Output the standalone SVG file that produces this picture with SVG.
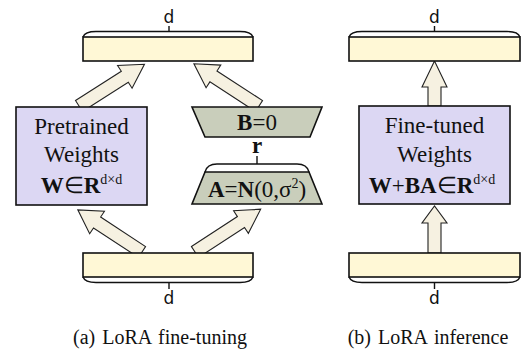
<svg xmlns="http://www.w3.org/2000/svg" width="524" height="356" viewBox="0 0 524 356">
  <style>
    .bar { fill: #FFF8D6; stroke: #111; stroke-width: 1.6; }
    .wbox { fill: #DCD7F3; stroke: #111; stroke-width: 1.6; }
    .trap { fill: #C9CEBB; stroke: #111; stroke-width: 1.6; }
    .brace { fill: none; stroke: #111; stroke-width: 1.4; }
    .arrow { fill: #F6F1E1; stroke: #222; stroke-width: 1.1; stroke-linejoin: miter; }
    .lbl { font-size: 23px; fill: #111; text-anchor: middle; }
    .dim { font-size: 17px; fill: #111; text-anchor: middle; }
    .cap { font-size: 20px; fill: #111; text-anchor: middle; word-spacing: 2px; }
    .b { font-weight: bold; }
  </style>

  <!-- connectors: thick block arrows -->
  <g id="connectors" class="arrow">
    <!-- (a) pretrained -> output -->
    <path transform="translate(79,106) rotate(-32.5) scale(0.97,1)" d="M0,-6.5 L56,-6.5 L56,-13.5 L80,0 L56,13.5 L56,6.5 L0,6.5 Z"/>
    <!-- (a) B -> output -->
    <path transform="translate(259,106) rotate(-147) scale(0.97,1)" d="M0,-6.5 L56,-6.5 L56,-13.5 L80,0 L56,13.5 L56,6.5 L0,6.5 Z"/>
    <!-- (a) input -> pretrained -->
    <path transform="translate(142,252) rotate(-146.7) scale(0.96,1)" d="M0,-6.5 L56,-6.5 L56,-13.5 L80,0 L56,13.5 L56,6.5 L0,6.5 Z"/>
    <!-- (a) input -> A -->
    <path transform="translate(195,252) rotate(-33.1) scale(0.98,1)" d="M0,-6.5 L56,-6.5 L56,-13.5 L80,0 L56,13.5 L56,6.5 L0,6.5 Z"/>
    <!-- (b) input -> fine-tuned -> output -->
    <path d="M428,106 V87 H422 L434.5,61 L447,87 H441 V106 Z"/>
    <path d="M428,253 V223 H422 L434.5,206 L447,223 H441 V253 Z"/>
  </g>

  <!-- (a) LoRA fine-tuning -->
  <g id="a-output">
    <rect class="bar" x="83" y="37" width="170" height="24"/>
    <path class="brace" d="M83,37 Q85,31.5 96,31.5 L240,31.5 Q251,31.5 253,37 M169,31.5 V26"/>
    <text class="dim" font-family="'DejaVu Sans', sans-serif" x="169" y="23">d</text>
  </g>
  <g id="a-pretrained" font-family="'Liberation Serif', 'Times New Roman', serif">
    <rect class="wbox" x="16" y="107" width="131" height="98"/>
    <text class="lbl" x="81.5" y="134">Pretrained</text>
    <text class="lbl" x="81.5" y="162">Weights</text>
    <text class="lbl" x="81.5" y="193"><tspan class="b">W</tspan>∈<tspan class="b">R</tspan><tspan font-size="14" dy="-9">d×d</tspan></text>
  </g>
  <g id="a-B" font-family="'Liberation Serif', 'Times New Roman', serif">
    <polygon class="trap" points="192,107 322,107 310,137 205,137"/>
    <text class="lbl" x="257" y="130"><tspan class="b">B</tspan>=0</text>
  </g>
  <g id="a-A" font-family="'Liberation Serif', 'Times New Roman', serif">
    <polygon class="trap" points="205,172 309,172 322,204 192,204"/>
    <path class="brace" d="M205,172 Q207,164 217,164 L297,164 Q307,164 309,172 M257,164 V156"/>
    <text class="lbl b" x="257" y="153" font-size="18">r</text>
    <text class="lbl" x="257" y="197"><tspan class="b">A</tspan>=<tspan class="b">N</tspan>(0,σ<tspan font-size="14" dy="-9">2</tspan><tspan dy="9">)</tspan></text>
  </g>
  <g id="a-input">
    <rect class="bar" x="83" y="253" width="170" height="24"/>
    <path class="brace" d="M83,277 Q85,282.5 96,282.5 L240,282.5 Q251,282.5 253,277 M169,282.5 V289"/>
    <text class="dim" font-family="'DejaVu Sans', sans-serif" x="169" y="304">d</text>
  </g>
  <text class="cap" font-family="'Liberation Serif', 'Times New Roman', serif" x="160" y="344">(a) LoRA fine-tuning</text>

  <!-- (b) LoRA inference -->
  <g id="b-output">
    <rect class="bar" x="349" y="37" width="171" height="24"/>
    <path class="brace" d="M349,37 Q351,31.5 362,31.5 L507,31.5 Q518,31.5 520,37 M434.5,31.5 V26"/>
    <text class="dim" font-family="'DejaVu Sans', sans-serif" x="434.5" y="23">d</text>
  </g>
  <g id="b-finetuned" font-family="'Liberation Serif', 'Times New Roman', serif">
    <rect class="wbox" x="359" y="106" width="151" height="98"/>
    <text class="lbl" x="434.5" y="133">Fine-tuned</text>
    <text class="lbl" x="434.5" y="162">Weights</text>
    <text class="lbl" x="432" y="193"><tspan class="b">W</tspan>+<tspan class="b">BA</tspan>∈<tspan class="b">R</tspan><tspan font-size="14" dy="-9">d×d</tspan></text>
  </g>
  <g id="b-input">
    <rect class="bar" x="349" y="253" width="171" height="24"/>
    <path class="brace" d="M349,277 Q351,282.5 362,282.5 L507,282.5 Q518,282.5 520,277 M434.5,282.5 V289"/>
    <text class="dim" font-family="'DejaVu Sans', sans-serif" x="434.5" y="304">d</text>
  </g>
  <text class="cap" font-family="'Liberation Serif', 'Times New Roman', serif" x="428" y="344">(b) LoRA inference</text>
</svg>
